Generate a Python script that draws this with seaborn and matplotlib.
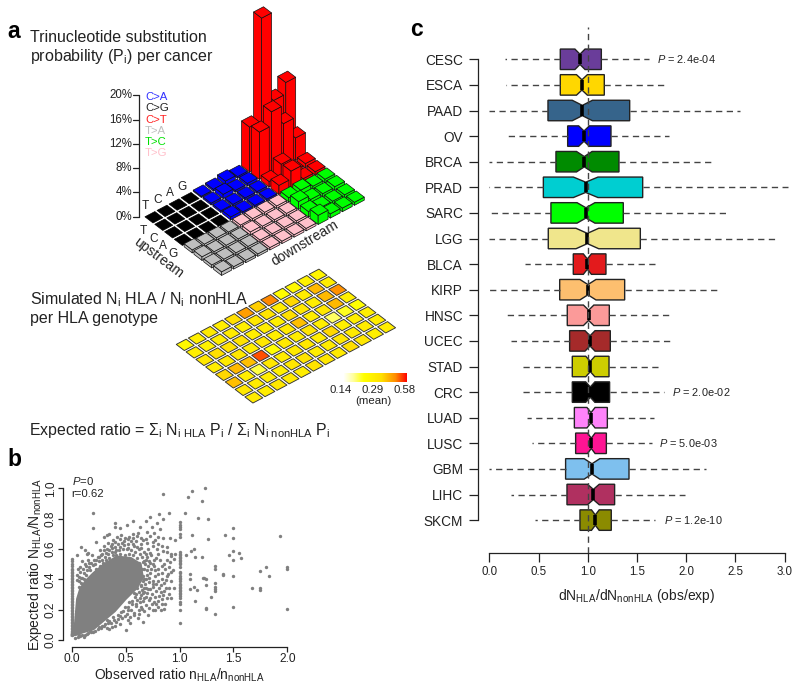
import numpy as np
import pandas as pd
import matplotlib
matplotlib.use("Agg")
import matplotlib.pyplot as plt
from matplotlib.collections import PolyCollection
from matplotlib.colors import LinearSegmentedColormap, LogNorm
import seaborn as sns

sns.set_theme(style="white")
plt.rcParams.update({
    "font.family": ["Liberation Sans", "DejaVu Sans"],
    "mathtext.fontset": "custom",
    "mathtext.rm": "Liberation Sans",
    "mathtext.it": "Liberation Sans:italic",
    "mathtext.bf": "Liberation Sans:bold",
    "mathtext.default": "regular",
    "text.color": "#222222",
    "axes.labelcolor": "#222222",
    "xtick.color": "#222222",
    "ytick.color": "#222222",
})

# ---------- panel a: substitution probabilities (percent), [downstream row][upstream col]
CG = [[0, 0, 0, 0], [0, 0, 0, 0], [0, 0, 0, 0], [0, 0, 0, 0]]
CA = [[.2, .3, .6, .3], [.3, .7, .3, .4], [.3, .3, .3, .3], [.5, .3, .3, .3]]
CT = [[7.4, 24.3, 9.7, 11.6], [7.8, 10.1, 7.1, 3.7], [.9, 2.7, .5, .7], [1.5, 2.8, .5, .6]]
TA = [[.5, .4, .4, .3], [.6, .4, .4, .4], [.5, .4, .4, .4], [.6, .4, .4, .4]]
TG = [[.4, .4, .4, .4], [.5, .4, .4, .4], [.4, .4, .4, .4], [.4, .4, .4, .4]]
TC = [[.7, .9, .5, .6], [1.3, .6, .5, .6], [.9, .5, .5, .5], [1.5, .7, .6, .5]]
BLOCK_COLORS = {"CG": "#000000", "CA": "#0000FF", "CT": "#FF0000",
                "TA": "#BEBEBE", "TG": "#FFC0CB", "TC": "#00FF00"}
SUB_LABELS = ["C>A", "C>G", "C>T", "T>A", "T>C", "T>G"]
SUB_COLORS = ["#3030FF", "#222222", "#FF2020", "#BEBEBE", "#00E000", "#FFC0CB"]
BASES = ["T", "C", "A", "G"]
PCT_TICKS = [0, 4, 8, 12, 16, 20]

# ---------- panel a: simulated ratio per genotype, rows along v, cols along u
HEAT = [
    [.24, .27, .29, .28, .33, .42, .35, .45, .23, .24, .26, .25],
    [.27, .26, .28, .29, .27, .30, .31, .28, .34, .28, .38, .28],
    [.30, .33, .32, .32, .27, .28, .27, .33, .30, .28, .38, .44],
    [.28, .29, .30, .28, .30, .27, .29, .37, .28, .30, .38, .27],
    [.34, .38, .37, .50, .22, .29, .28, .31, .27, .19, .21, .22],
    [.37, .28, .20, .30, .28, .29, .30, .28, .34, .27, .28, .27],
    [.30, .29, .28, .27, .30, .31, .28, .29, .30, .29, .28, .28],
    [.29, .28, .30, .29, .28, .31, .30, .29, .33, .30, .27, .28],
]

# ---------- panel b
SPARSE = [
 (.195,.835),(.195,.736),(.23,.648),(.155,.576),(.083,.615),(.053,.56),(.124,.593),(.145,.57),(.263,.593),
 (.325,.692),(.402,.769),(.402,.743),(.448,.736),(.51,.758),(.572,.787),(.634,.743),(.689,.785),(.726,.813),
 (.813,.831),(.85,.796),(.906,.835),(.844,.963),(.788,.769),(.742,.743),(.696,.714),(.804,.681),(.819,.73),
 (.572,.699),(.618,.708),(.53,.68),(.958,.659),(.912,.67),(.85,.67),(.773,.659),(.665,.659),(.70,.64),
 (.35,.70),(.30,.68),(.38,.66),(.42,.68),(.46,.69),(.49,.67),(.55,.65),(.60,.655),(.64,.63),(.58,.62),
 (.62,.60),(.52,.635),(.47,.64),(.43,.63),(.40,.61),(.36,.62),(.33,.60),(.30,.59),(.27,.56),(.24,.55),
 (.21,.53),(.18,.51),(.16,.48),(.14,.46),(.11,.44),(.09,.41),(.12,.50),(.08,.48),(.06,.47),(.05,.43),
 (.07,.39),(.10,.52),(.15,.53),(.19,.56),(.22,.50),(.25,.52),(.28,.53),(.31,.55),(.34,.57),(.37,.58),
 (.40,.58),(.44,.59),(.48,.60),(.51,.60),(.55,.59),(.59,.58),(.63,.57),(.67,.58),(.71,.60),(.75,.62),
 (.79,.60),(.84,.62),(.88,.58),(.92,.57),(.96,.57),(.70,.55),(.74,.56),(.78,.54),(.82,.53),(.86,.50),
 (.90,.48),(.94,.46),(.72,.52),(.68,.50),(.76,.49),(.80,.47),(.84,.44),(.88,.42),(.92,.39),(.95,.34),
 (.70,.46),(.73,.44),(.77,.42),(.80,.39),(.83,.36),(.86,.32),(.90,.30),(.92,.28),(.66,.42),(.69,.40),
 (.72,.38),(.75,.35),(.78,.32),(.81,.29),(.84,.27),(.87,.24),(.64,.36),(.67,.34),(.70,.31),(.73,.28),
 (.76,.25),(.80,.22),(.83,.20),(.60,.30),(.63,.28),(.66,.26),(.69,.23),(.72,.21),(.56,.26),(.60,.24),
 (.64,.22),(.67,.19),(.75,.20),(.52,.22),(.55,.20),(.58,.18),(.62,.17),(.66,.12),(.50,.065),(.48,.19),
 (.51,.17),(.54,.15),(.45,.16),(.43,.14),(.41,.12),(.38,.15),(.36,.11),(.33,.13),(.30,.09),(.33,.08),
 (.27,.08),(.24,.07),(.20,.05),(.17,.06),(.14,.04),(.10,.03),(.06,.02),(.03,.015),(.08,.025),(.12,.035),
 (.50,.45),(.55,.46),(.60,.43),(.65,.47),(.57,.36),(.61,.34),(.68,.37),(.66,.31),(.63,.25),(.58,.31),
 (1.08,.945),(1.12,.98),(1.235,1.0),(1.21,.915),(1.05,.835),(1.17,.805),(1.26,.795),(1.12,.69),(1.26,.665),
 (1.42,.695),(1.50,.74),(1.50,.672),(1.93,.685),(1.55,.575),(1.50,.585),(1.46,.56),(1.50,.53),(1.57,.54),
 (1.13,.60),(1.11,.585),(1.14,.55),(1.06,.56),(1.21,.55),(1.10,.435),(1.10,.40),(1.22,.41),(1.25,.40),
 (1.33,.49),(1.33,.47),(1.40,.435),(1.40,.43),(1.50,.42),(1.80,.48),(1.75,.455),(1.83,.42),(2.0,.48),(2.0,.465),
 (1.10,.335),(1.13,.35),(1.16,.33),(1.23,.41),(1.25,.365),(1.33,.375),(1.33,.35),(1.33,.335),(1.33,.32),
 (1.67,.345),(1.75,.34),(1.75,.33),(1.14,.255),(1.25,.21),(1.25,.205),(1.29,.285),(1.33,.17),(1.50,.215),(2.0,.205),
 (.33,.50),(.33,.26),(.5,.52),(.5,.47),(.5,.42),(.5,.38),(.5,.34),(.5,.30),(.67,.52),(.67,.40),(.67,.28),(.75,.50),(.75,.37),
 # looser scatter around the dense core
 (.07,.35),(.10,.41),(.13,.43),(.17,.46),(.23,.47),(.26,.49),(.29,.51),(.32,.53),(.35,.54),(.38,.56),
 (.41,.56),(.45,.57),(.49,.56),(.53,.57),(.57,.56),(.61,.54),(.65,.55),(.69,.53),(.73,.505),(.71,.49),
 (.67,.47),(.74,.47),(.77,.46),(.70,.43),(.63,.41),(.66,.39),(.72,.41),(.75,.39),(.78,.37),(.81,.345),
 (.73,.335),(.69,.345),(.65,.33),(.62,.315),(.59,.285),(.56,.235),(.53,.25),(.49,.215),(.46,.185),(.43,.165),
 (.39,.135),(.35,.125),(.31,.105),(.28,.095),(.25,.085),(.22,.06),(.18,.05),(.15,.045),(.11,.02),(.07,.03),
 (.605,.265),(.645,.295),(.685,.285),(.715,.265),(.745,.305),(.775,.285),(.805,.255),(.835,.235),(.855,.205),
 (.785,.235),(.825,.315),(.855,.375),(.875,.345),(.895,.435),(.925,.445),(.835,.405),(.865,.465),(.805,.435),
 (.835,.485),(.885,.525),(.915,.515),(.945,.535),(.805,.565),(.765,.525),(.725,.575),(.685,.565),(.645,.605),
 (.605,.615),(.565,.635),(.525,.605),(.485,.625),(.445,.615),(.415,.595),(.375,.605),(.345,.595),(.315,.575),
 (.285,.565),(.255,.545),(.225,.525),(.195,.495),(.165,.505),(.135,.485),(.105,.465),(.075,.445),(.045,.395),
 (.065,.415),(.085,.375),(.115,.405),(.585,.495),(.625,.505),(.665,.515),(.595,.405),(.565,.425),(.535,.385),
 (.555,.345),(.605,.365),(.645,.355),(.705,.335),(.675,.315),(.595,.225),(.625,.195),(.655,.205),(.575,.165),
 (.525,.195),(.495,.155),(.465,.145),(.445,.105),(.405,.095),(.375,.085),(.345,.075),(.335,.115),(.545,.115),
 (.525,.135),(.615,.145),(.705,.165),(.745,.235),(.775,.195),(.845,.295),(.885,.275),(.905,.345),(.875,.395),
 (.375,.635),(.405,.645),(.445,.665),(.485,.655),(.525,.665),(.565,.675),(.605,.685),(.645,.675),(.685,.665),
 (.725,.685),(.765,.705),(.805,.635),(.845,.585),(.885,.615),(.925,.555),(.755,.645),(.335,.64),(.295,.62),
]
STRIPE_X0 = [.535,.52,.50,.485,.47,.46,.45,.44,.43,.42,.41,.40,.39,.38,.37,.36,.35,.34,.33,.32,.31,.30,.29,
             .28,.27,.26,.25,.24,.23,.22,.21,.20,.19,.18,.17,.16,.15,.14,.13,.12,.11,.10,.09,.08,.07,.06,.05,.04,.03]
STRIPE_X1 = [.775,.76,.745,.73,.70,.68,.58,.57,.56,.55,.54,.53,.52,.51,.50,.48,.45,.44,.42,.41,.40,.39,.37,
             .36,.35,.34,.33,.32,.31,.30,.29,.28,.25,.24,.195,.115]
CORE_X = [.0, .03, .05, .08, .13, .20, .30, .42, .55, .64, .66, .60, .50, .40, .30, .20, .10, .05, .0]
CORE_Y = [.04, .10, .27, .34, .39, .44, .50, .55, .54, .50, .41, .34, .27, .19, .13, .07, .05, .035, .03]

# ---------- panel c
CANCERS = ["CESC","ESCA","PAAD","OV","BRCA","PRAD","SARC","LGG","BLCA","KIRP",
           "HNSC","UCEC","STAD","CRC","LUAD","LUSC","GBM","LIHC","SKCM"]
WHISK_LOW = [.159,.166,0,.173,0,0,0,0,.359,0,.183,.22,.305,.315,.379,.43,0,.22,.467]
Q1 = [.721,.721,.596,.796,.677,.549,.626,.599,.853,.715,.792,.816,.843,.843,.864,.877,.775,.789,.921]
MED = [.921,.941,.945,.962,.965,.979,.982,.996,.996,1.002,1.009,1.023,1.026,1.026,1.033,1.036,1.043,1.057,1.077]
Q3 = [1.138,1.168,1.426,1.236,1.317,1.558,1.361,1.534,1.185,1.375,1.219,1.229,1.216,1.222,1.199,1.189,1.419,1.273,1.239]
WHISK_HIGH = [1.625,1.775,2.547,1.829,2.269,3.03,2.431,2.912,1.683,2.337,1.852,1.842,1.734,1.775,1.676,1.656,2.201,1.988,1.683]
BOX_COLORS = ["#6A3D9A","#FFD700","#36648B","#0000FF","#008B00","#00CED1","#00FF00","#F0E68C","#E31A1C","#FDBF6F",
              "#FB9A99","#A52A2A","#CDCD00","#000000","#FF83FA","#FF1493","#7EC0EE","#B03060","#8B8B00"]
P_NOTES = {"CESC": ("2.4e-04", 1.70), "CRC": ("2.0e-02", 1.86), "LUSC": ("5.0e-03", 1.72), "SKCM": ("1.2e-10", 1.77)}

W, H = 800, 687
fig = plt.figure(figsize=(W / 100, H / 100), dpi=100)

def rect_ax(left, top, right, bottom):
    return fig.add_axes([left / W, 1 - bottom / H, (right - left) / W, (bottom - top) / H])

ov = fig.add_axes([0, 0, 1, 1])
ov.set_xlim(0, W); ov.set_ylim(H, 0); ov.axis("off")

# projection of the lego grid onto the page
U = np.array([12.07, -6.37]); V = np.array([9.8, 7.5]); PCT = 6.07
def proj(origin, a, b, h=0.0):
    p = np.asarray(origin) + a * U + b * V
    return (p[0], p[1] - h * PCT)

# --- lego plot
O1 = (143, 216.7)
blocks = [("CG", CG, 0, 0), ("CA", CA, 4, 0), ("CT", CT, 8, 0),
          ("TA", TA, 0, 4), ("TG", TG, 4, 4), ("TC", TC, 8, 4)]
tiles = []
for name, table, a0, b0 in blocks:
    for r, row in enumerate(table):
        for c, h in enumerate(row):
            tiles.append((a0 + c, b0 + r, h, BLOCK_COLORS[name]))
tiles.sort(key=lambda t: (t[1] - t[0]))
m = 0.09
polys, fcs, ecs = [], [], []
for a, b, h, col in tiles:
    a0, a1, b0, b1 = a + m, a + 1 - m, b + m, b + 1 - m
    edge = "#111111" if col != "#000000" else "#000000"
    if h > 0:
        polys.append([proj(O1, a0, b0, 0), proj(O1, a0, b1, 0), proj(O1, a0, b1, h), proj(O1, a0, b0, h)])
        polys.append([proj(O1, a0, b1, 0), proj(O1, a1, b1, 0), proj(O1, a1, b1, h), proj(O1, a0, b1, h)])
        fcs += [col, col]; ecs += [edge, edge]
    polys.append([proj(O1, a0, b0, h), proj(O1, a0, b1, h), proj(O1, a1, b1, h), proj(O1, a1, b0, h)])
    fcs.append(col); ecs.append(edge)
ov.add_collection(PolyCollection(polys, facecolors=fcs, edgecolors=ecs, linewidths=0.5, zorder=3))

# vertical % axis of the lego plot
ax_x = 138.7
ov.plot([ax_x, ax_x], [O1[1] - 20 * PCT, O1[1]], color="#222222", lw=0.9, zorder=2)
for t in PCT_TICKS:
    y = O1[1] - t * PCT
    ov.plot([ax_x - 5.5, ax_x], [y, y], color="#222222", lw=0.9, zorder=2)
    ov.text(132.5, y, f"{t}%", ha="right", va="center", fontsize=8.3)
for i, (lab, col) in enumerate(zip(SUB_LABELS, SUB_COLORS)):
    ov.text(145, 97.2 + i * 11.2, lab, color=col, fontsize=8.2, ha="left", va="center")
for i, b in enumerate(BASES):
    x, y = proj(O1, i + .5, 0)
    ov.text(x - 3.5, y - 7.5, b, fontsize=8.6, ha="center", va="center", rotation=0)
    x, y = proj(O1, 0, i + .5)
    ov.text(x - 4.5, y + 11, b, fontsize=8.6, ha="center", va="center")
ov.text(158, 258, "upstream", fontsize=10, rotation=-37, ha="center", va="center", rotation_mode="anchor")
ov.text(305, 243, "downstream", fontsize=10, rotation=31, ha="center", va="center", rotation_mode="anchor")

ov.text(30, 37.5, "Trinucleotide substitution", fontsize=11.5, ha="left", va="center")
ov.text(30, 57, "probability (P$_i$) per cancer", fontsize=11.5, ha="left", va="center")
ov.text(30, 300, "Simulated N$_i$ HLA / N$_i$ nonHLA", fontsize=11.5, ha="left", va="center")
ov.text(30, 319, "per HLA genotype", fontsize=11.5, ha="left", va="center")
ov.text(29, 430, "Expected ratio = \u03a3$_i$ N$_{i\\ HLA}$ P$_i$ / \u03a3$_i$ N$_{i\\ nonHLA}$ P$_i$",
        fontsize=11.4, ha="left", va="center")
ov.text(7, 31, "a", fontsize=16.5, fontweight="bold", color="black", ha="left", va="center")
ov.text(7, 459, "b", fontsize=16.5, fontweight="bold", color="black", ha="left", va="center")
ov.text(410, 30, "c", fontsize=16.5, fontweight="bold", color="black", ha="left", va="center")

# --- projected heat tiles
cmap = LinearSegmentedColormap.from_list(
    "wyr", [(0, "#FFFFFF"), (.15, "#FFFFA0"), (.32, "#FFFF00"), (.6, "#FFE000"), (.82, "#FF8C00"), (1, "#FF0000")])
norm = LogNorm(.14, .58)
O2 = (174.3, 344.3)
polys2, fcs2 = [], []
m2 = 0.09
for b, row in enumerate(HEAT):
    for a, v in enumerate(row):
        polys2.append([proj(O2, a + m2, b + m2), proj(O2, a + m2, b + 1 - m2),
                       proj(O2, a + 1 - m2, b + 1 - m2), proj(O2, a + 1 - m2, b + m2)])
        fcs2.append(cmap(norm(v)))
ov.add_collection(PolyCollection(polys2, facecolors=fcs2, edgecolors="#333333", linewidths=0.65, zorder=3))

cax = rect_ax(343, 373, 407, 381.5)
sns.heatmap(np.linspace(0, 1, 128)[None, :], cmap=cmap, vmin=0, vmax=1, cbar=False,
            xticklabels=False, yticklabels=False, ax=cax)
cax.set_xlabel(""); cax.set_ylabel("")
for lab, x in zip(["0.14", "0.29", "0.58"], [341, 373, 405]):
    ov.text(x, 390, lab, fontsize=8.2, ha="center", va="center")
ov.text(373, 401, "(mean)", fontsize=8.2, ha="center", va="center")

# --- panel b
axb = rect_ax(71.7, 488.3, 287.3, 640)
sp = np.array(SPARSE)
obs = np.concatenate([sp[:, 0], np.zeros(len(STRIPE_X0)), np.ones(len(STRIPE_X1))])
exp = np.concatenate([sp[:, 1], STRIPE_X0, STRIPE_X1])
axb.fill(CORE_X, CORE_Y, color="#808080", lw=1.5, zorder=1, clip_on=False)
sns.scatterplot(x=obs, y=exp, s=6, color="#808080", linewidth=0, ax=axb, clip_on=False, zorder=2)
axb.set_xlim(0, 2); axb.set_ylim(0, 1)
axb.patch.set_alpha(0)
sns.despine(ax=axb)
axb.spines["left"].set_position(("outward", 6)); axb.spines["bottom"].set_position(("outward", 4.7))
for s in ["left", "bottom"]:
    axb.spines[s].set_color("#222222"); axb.spines[s].set_linewidth(.9)
axb.set_xticks([0, .5, 1, 1.5, 2]); axb.set_yticks([0, .2, .4, .6, .8, 1])
axb.set_xticklabels(["0.0", "0.5", "1.0", "1.5", "2.0"])
axb.set_yticklabels(["0.0", "0.2", "0.4", "0.6", "0.8", "1.0"], rotation=90, va="center")
axb.tick_params(length=3.6, width=.9, labelsize=8.6, pad=1, bottom=True, left=True)
axb.set_xlabel("Observed ratio n$_{HLA}$/n$_{nonHLA}$", fontsize=10, labelpad=1)
axb.set_ylabel("Expected ratio N$_{HLA}$/N$_{nonHLA}$", fontsize=10, labelpad=1)
axb.text(0, 1.045, r"$\mathit{P}$=0", fontsize=8.2, ha="left", va="center", transform=axb.transData)
axb.text(0, .965, "r=0.62", fontsize=8.2, ha="left", va="center")

# --- panel c: a notched boxplot from five-number summaries (repeats set the notch depth)
rows = []
for name, lo, q1, med, q3, hi in zip(CANCERS, WHISK_LOW, Q1, MED, Q3, WHISK_HIGH):
    vals = [lo] + [q1] * 79 + [med] + [q3] * 79 + [hi]
    rows.append(pd.DataFrame({"cancer": name, "value": vals}))
df = pd.concat(rows, ignore_index=True)

px_per_x = 98.45; px_per_row = 25.6
axc = rect_ax(477.7, 27, 796, 552.7)
sns.boxplot(data=df, x="value", y="cancer", hue="cancer", order=CANCERS, hue_order=CANCERS,
            palette=BOX_COLORS, saturation=1, width=.8, dodge=False, notch=True, whis=(0, 100),
            showfliers=False, showcaps=False, linewidth=1.0, linecolor="#222222", legend=False,
            whiskerprops={"linestyle": (0, (4.5, 3.2)), "color": "#444444", "linewidth": 1.0},
            medianprops={"color": "black", "linewidth": 2.6},
            ax=axc)
axc.set_xlim(-(489.3 - 477.7) / px_per_x, (796 - 489.3) / px_per_x)
axc.set_ylim((552.7 - 59.3) / px_per_row, -(59.3 - 27) / px_per_row)
axc.patch.set_alpha(0)
axc.axvline(1, color="#444444", lw=1.0, ls=(0, (4.5, 3.2)), zorder=10)
sns.despine(ax=axc)
axc.spines["left"].set_bounds(0, 18); axc.spines["bottom"].set_bounds(0, 3)
for s in ["left", "bottom"]:
    axc.spines[s].set_color("#222222"); axc.spines[s].set_linewidth(.9)
axc.set_xticks(np.arange(0, 3.01, .5))
axc.set_xticklabels([f"{v:.1f}" for v in np.arange(0, 3.01, .5)])
axc.tick_params(axis="x", length=6.5, width=.9, labelsize=8.3, pad=3, bottom=True)
axc.tick_params(axis="y", length=6.5, width=.9, labelsize=9.8, pad=4, left=True)
axc.set_xlabel("dN$_{HLA}$/dN$_{nonHLA}$ (obs/exp)", fontsize=10, labelpad=5)
axc.set_ylabel("")
axc.xaxis.set_label_coords((636.5 - 477.7) / (796 - 477.7), -0.066)
for name, (p, x) in P_NOTES.items():
    axc.text(x, CANCERS.index(name), rf"$\mathit{{P}}$ = {p}", fontsize=7.9, va="center", ha="left")

fig.savefig("out.png", dpi=100)
